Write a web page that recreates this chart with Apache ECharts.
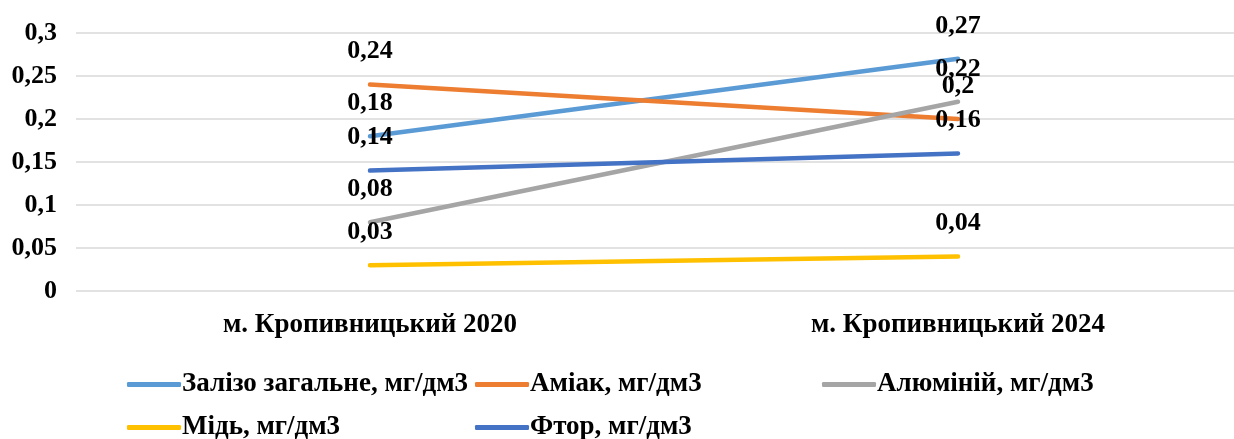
<!DOCTYPE html>
<html>
<head>
<meta charset="utf-8">
<script src="https://cdn.jsdelivr.net/npm/echarts@6/dist/echarts.min.js"></script>
<style>
  html, body { margin: 0; padding: 0; background: #fff; }
  #chart { width: 1234px; height: 439px; }
</style>
</head>
<body>
<div id="chart"></div>
<script>
// Categories and concentrations (мг/дм3)
const categories = ['м. Кропивницький 2020', 'м. Кропивницький 2024'];
const seriesNames = [
  'Залізо загальне, мг/дм3',
  'Аміак, мг/дм3',
  'Алюміній, мг/дм3',
  'Мідь, мг/дм3',
  'Фтор, мг/дм3'
];
const iron = [0.18, 0.27];
const ammonia = [0.24, 0.20];
const aluminium = [0.08, 0.22];
const copper = [0.03, 0.04];
const fluorine = [0.14, 0.16];
const yTicks = [0, 0.05, 0.1, 0.15, 0.2, 0.25, 0.3];

const colors = ['#5B9BD5', '#ED7D31', '#A5A5A5', '#FFC000', '#4472C4'];
const values = [iron, ammonia, aluminium, copper, fluorine];
const FONT = '"Liberation Serif", "Times New Roman", serif';

const fmt = v => String(v).replace('.', ',');

const chart = echarts.init(document.getElementById('chart'), null, { renderer: 'canvas' });

// legend placement: [icon left, top]
const legendPos = [[122, 366], [470, 366], [817, 366], [122, 409], [470, 409]];

chart.setOption({
  animation: false,
  backgroundColor: '#ffffff',
  grid: {
    left: 76, width: 1176, top: 33, bottom: 148,
    containLabel: false,
    outerBoundsMode: 'none'
  },
  legend: seriesNames.map((n, i) => ({
    data: [n],
    left: legendPos[i][0],
    top: legendPos[i][1],
    icon: 'roundRect',
    itemWidth: 54,
    itemHeight: 5,
    itemGap: 6,
    selectedMode: false,
    textStyle: { fontFamily: FONT, fontWeight: 'bold', fontSize: 27, color: '#000', padding: [0, 0, 0, -4] }
  })),
  xAxis: {
    type: 'category',
    data: categories,
    boundaryGap: true,
    axisLine: { show: false },
    axisTick: { show: false },
    axisLabel: {
      margin: 21,
      fontFamily: FONT, fontWeight: 'bold', fontSize: 27, color: '#000'
    }
  },
  yAxis: {
    type: 'value',
    min: yTicks[0],
    max: yTicks[yTicks.length - 1],
    interval: 0.05,
    axisLine: { show: false },
    axisTick: { show: false },
    splitLine: { lineStyle: { color: '#d9d9d9', width: 1.5 } },
    axisLabel: {
      margin: 19,
      formatter: v => fmt(+v.toFixed(2)),
      fontFamily: FONT, fontWeight: 'bold', fontSize: 26, color: '#000'
    }
  },
  series: seriesNames.map((n, i) => ({
    name: n,
    type: 'line',
    data: values[i],
    symbol: 'circle',
    symbolSize: 2,
    showSymbol: true,
    itemStyle: { color: colors[i] },
    lineStyle: { color: colors[i], width: 4.5, cap: 'round' },
    label: {
      show: true,
      position: 'top',
      distance: 19,
      formatter: p => fmt(p.value),
      fontFamily: FONT, fontWeight: 'bold', fontSize: 26, color: '#000'
    },
    labelLayout: { hideOverlap: false },
    z: 2 + i
  }))
});
</script>
</body>
</html>
